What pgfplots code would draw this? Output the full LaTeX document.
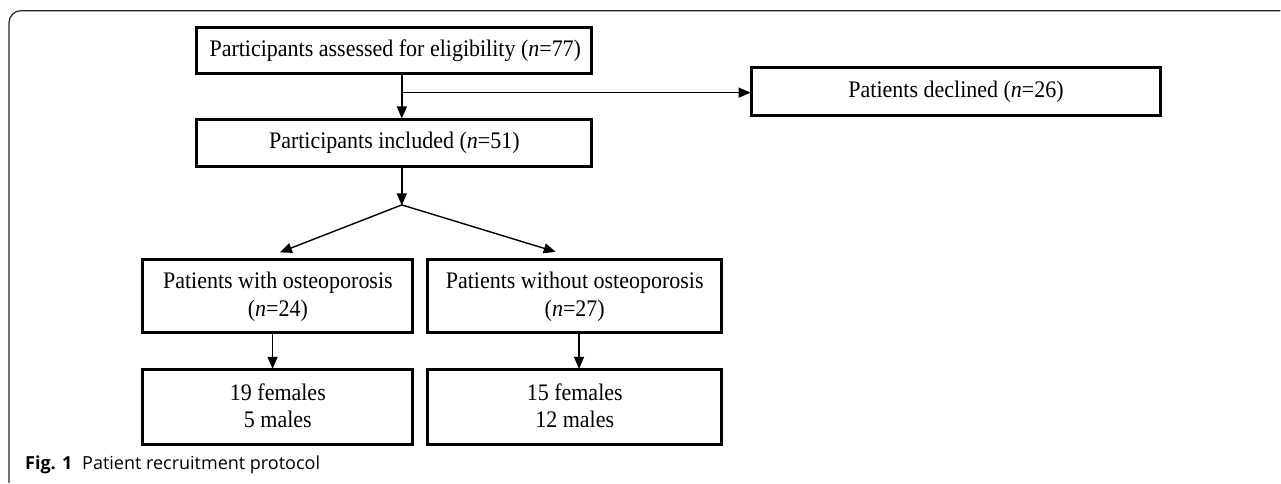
\documentclass[border=0pt]{standalone}
\usepackage{fontspec}
\setmainfont{Liberation Serif}
\newfontfamily\capfont{Open Sans}
\usepackage{graphicx}
\usepackage{pgfplots}
\pgfplotsset{compat=1.18}
\usetikzlibrary{arrows.meta}
\newcommand\bx[1]{\scalebox{1}[1.08]{\fontsize{22}{25.5}\selectfont\begin{tabular}{@{}c@{}}#1\end{tabular}}}
\begin{document}
\begin{tikzpicture}
\begin{axis}[width=1281pt,height=483pt,scale only axis,hide axis,
  xmin=0,xmax=1281,ymin=0,ymax=483,y dir=reverse,clip=false]
\path (axis cs:0,0) rectangle (axis cs:1281,483);
% outer frame
\addplot[line width=1.2pt,color=black!85,mark=none,rounded corners=12pt] coordinates {(9,483) (9,10.7) (1281,10.7)};
% boxes
\pgfplotsset{box/.style={line width=3pt,black,mark=none,line join=miter}}
\addplot[box] coordinates {(197,28) (592,28) (592,74) (197,74)} -- cycle;
\addplot[box] coordinates {(752,67.5) (1161,67.5) (1161,116) (752,116)} -- cycle;
\addplot[box] coordinates {(197,119.5) (592,119.5) (592,166.5) (197,166.5)} -- cycle;
\addplot[box] coordinates {(143,260) (413,260) (413,333) (143,333)} -- cycle;
\addplot[box] coordinates {(428,260) (722,260) (722,333) (428,333)} -- cycle;
\addplot[box] coordinates {(143,370) (413,370) (413,444.5) (143,444.5)} -- cycle;
\addplot[box] coordinates {(428,370) (722,370) (722,444.5) (428,444.5)} -- cycle;
% arrows
\pgfplotsset{arr/.style={line width=1.4pt,black,mark=none,-{Triangle[length=12pt,width=10pt]}}}
\addplot[arr] coordinates {(402,74) (402,118.5)};
\addplot[arr] coordinates {(402,92.7) (751,92.7)};
\addplot[arr] coordinates {(402,166.5) (402,205.5)};
\addplot[arr] coordinates {(402,205) (280,252.5)};
\addplot[arr] coordinates {(402,205) (556,252)};
\addplot[arr] coordinates {(272.7,333) (272.7,369)};
\addplot[arr] coordinates {(579.3,333) (579.3,369)};
% texts
\tikzset{bt/.style={inner sep=0pt,anchor=center}}
\node[bt] at (axis cs:395.5,51) {\bx{Participants assessed for eligibility (\textit{n}=77)}};
\node[bt] at (axis cs:956.5,92) {\bx{Patients declined (\textit{n}=26)}};
\node[bt] at (axis cs:394.5,143) {\bx{Participants included (\textit{n}=51)}};
\node[bt] at (axis cs:278,297) {\bx{Patients with osteoporosis\\(\textit{n}=24)}};
\node[bt] at (axis cs:575,297) {\bx{Patients without osteoporosis\\(\textit{n}=27)}};
\node[bt] at (axis cs:278,408.5) {\bx{19 females\\5 males}};
\node[bt] at (axis cs:575,408.5) {\bx{15 females\\12 males}};
\node[anchor=west,inner sep=0pt,font=\capfont\fontsize{18}{21}\selectfont] at (axis cs:25,465) {\textbf{Fig. 1}\hspace{0.55em}Patient recruitment protocol};
\end{axis}
\end{tikzpicture}
\end{document}
